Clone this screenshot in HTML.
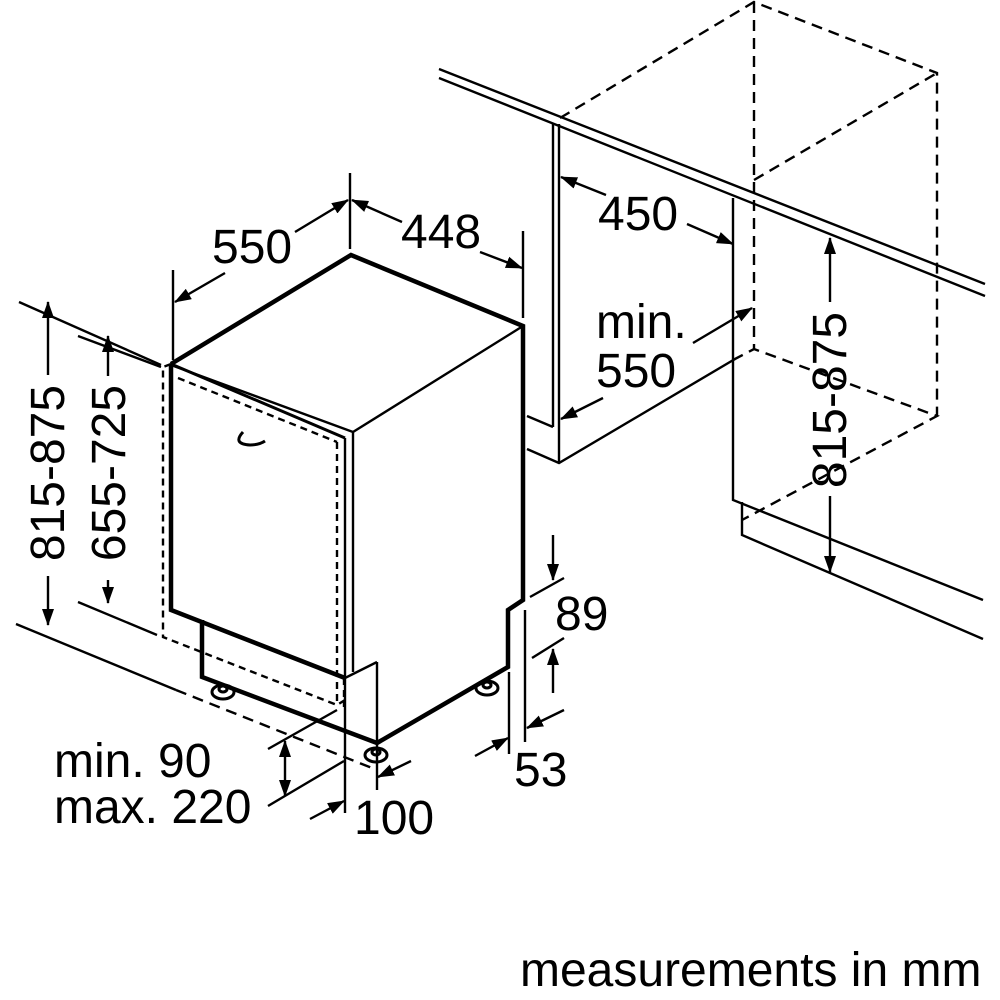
<!DOCTYPE html>
<html><head><style>html,body{margin:0;padding:0;background:#fff;}svg{display:block;}</style></head>
<body>
<svg width="1000" height="1000" viewBox="0 0 1000 1000" xmlns="http://www.w3.org/2000/svg">
<defs>
<marker id="a" markerUnits="userSpaceOnUse" markerWidth="18" markerHeight="12" refX="16" refY="6" orient="auto">
<path d="M0,0 L17,6 L0,12 Z" fill="#000"/>
</marker>
</defs>
<g fill="none" stroke="#000" stroke-width="2.4" stroke-linecap="butt">
<!-- countertop -->
<line x1="439" y1="69" x2="985" y2="284"/>
<line x1="439" y1="78" x2="985" y2="296"/>
<!-- left wall panel -->
<line x1="553" y1="124" x2="553" y2="427"/>
<line x1="559" y1="124" x2="559" y2="463"/>
<polyline points="527,416 553,427"/>
<polyline points="527,449 559,463 735,359"/>
<!-- right cabinet -->
<polyline points="733,198 733,500 983,600"/>
<polyline points="742,502 742,535 983,639"/>
<!-- dashed box -->
<g stroke-dasharray="11,7">
<polyline points="560,118 754,2 937,73 937,416"/>
<line x1="754" y1="2" x2="754" y2="349"/>
<line x1="754" y1="180" x2="937" y2="73"/>
<polyline points="733,360 754,349 937,416 742,520"/>
</g>
<!-- left floor/wall lines -->
<line x1="19" y1="302" x2="161" y2="365"/>
<line x1="78" y1="336" x2="161" y2="367"/>
<line x1="78" y1="602" x2="157" y2="635"/>
<line x1="16" y1="624" x2="176" y2="690"/>
<line x1="176" y1="690" x2="372" y2="768" stroke-dasharray="11,7"/>
<!-- dashed door -->
<g stroke-dasharray="7,5">
<polyline points="171,364 163,367 163,637 337,705 345,700"/>
<line x1="178" y1="378" x2="337" y2="442"/>
<line x1="337" y1="442" x2="337" y2="705"/>
<line x1="344" y1="678" x2="344" y2="707"/>
</g>
<!-- cabinet thin lines -->
<line x1="171" y1="365" x2="353" y2="432"/>
<line x1="353" y1="432" x2="523" y2="326"/>
<line x1="353" y1="432" x2="353" y2="672"/>
<line x1="345" y1="438" x2="345" y2="813"/>
<line x1="377" y1="662" x2="377" y2="790"/>
<polyline points="345,678 377,662"/>
<line x1="509" y1="672" x2="509" y2="754"/>
<line x1="525" y1="610" x2="525" y2="742"/>
<!-- cabinet thick -->
<g stroke-width="4.5" stroke-linejoin="miter">
<polyline points="171,364 351,255 523,326 523,600 508,610 508,667 377,743 202,677 202,620"/>
<polyline points="171,364 171,610 345,678"/>
<line x1="171" y1="364" x2="345" y2="438" stroke-width="3"/>
</g>
<!-- feet -->
<g stroke-width="3">
<ellipse cx="223" cy="692" rx="11" ry="7"/><ellipse cx="223" cy="689" rx="4" ry="3"/>
<ellipse cx="376" cy="755" rx="11" ry="7"/><ellipse cx="376" cy="752" rx="4" ry="3"/>
<ellipse cx="487" cy="688" rx="11" ry="7"/><ellipse cx="487" cy="685" rx="4" ry="3"/>
</g>
<!-- handle -->
<path d="M243,432 Q232,444 250,445 Q259,445 265,441" stroke-width="3"/>
<!-- ext lines top -->
<line x1="350" y1="173" x2="350" y2="249"/>
<line x1="173" y1="270" x2="173" y2="360"/>
<line x1="523" y1="231" x2="523" y2="318"/>
<!-- dimension arrows -->
<line x1="295" y1="232" x2="348" y2="200" marker-end="url(#a)"/>
<line x1="225" y1="273" x2="175" y2="302" marker-end="url(#a)"/>
<line x1="402" y1="222" x2="352" y2="200" marker-end="url(#a)"/>
<line x1="480" y1="252" x2="522" y2="268" marker-end="url(#a)"/>
<line x1="606" y1="195" x2="561" y2="177" marker-end="url(#a)"/>
<line x1="687" y1="224" x2="733" y2="244" marker-end="url(#a)"/>
<line x1="693" y1="343" x2="752" y2="308" marker-end="url(#a)"/>
<line x1="603" y1="398" x2="561" y2="419" marker-end="url(#a)"/>
<line x1="830" y1="302" x2="830" y2="238" marker-end="url(#a)"/>
<line x1="830" y1="496" x2="830" y2="572" marker-end="url(#a)"/>
<line x1="48" y1="375" x2="48" y2="302" marker-end="url(#a)"/>
<line x1="48" y1="576" x2="48" y2="625" marker-end="url(#a)"/>
<line x1="108" y1="376" x2="108" y2="336" marker-end="url(#a)"/>
<line x1="108" y1="580" x2="108" y2="603" marker-end="url(#a)"/>
<!-- 89 -->
<line x1="553" y1="535" x2="553" y2="580" marker-end="url(#a)"/>
<line x1="530" y1="597" x2="564" y2="578"/>
<line x1="532" y1="658" x2="564" y2="638"/>
<line x1="553" y1="693" x2="553" y2="649" marker-end="url(#a)"/>
<!-- 53 -->
<line x1="564" y1="710" x2="527" y2="728" marker-end="url(#a)"/>
<line x1="475" y1="756" x2="508" y2="738" marker-end="url(#a)"/>
<!-- 100 -->
<line x1="411" y1="761" x2="378" y2="777" marker-end="url(#a)"/>
<line x1="310" y1="819" x2="344" y2="801" marker-end="url(#a)"/>
<!-- min90 max220 -->
<line x1="268" y1="749" x2="337" y2="710"/>
<line x1="268" y1="806" x2="344" y2="761"/>
<line x1="285" y1="770" x2="285" y2="741" marker-end="url(#a)"/>
<line x1="285" y1="770" x2="285" y2="796" marker-end="url(#a)"/>
</g>
<g font-family="Liberation Sans, sans-serif" font-size="48" fill="#000">
<text x="212" y="263">550</text>
<text x="401" y="248">448</text>
<text x="598" y="230">450</text>
<text x="596" y="338">min.</text>
<text x="596" y="387">550</text>
<text x="555" y="630">89</text>
<text x="514" y="786">53</text>
<text x="54" y="777">min. 90</text>
<text x="54" y="823">max. 220</text>
<text x="354" y="834">100</text>
<text x="520" y="986">measurements in mm</text>
<text transform="translate(846,400) rotate(-90)" text-anchor="middle">815-875</text>
<text transform="translate(64,473) rotate(-90)" text-anchor="middle">815-875</text>
<text transform="translate(125,473) rotate(-90)" text-anchor="middle">655-725</text>
</g>
</svg>
</body></html>
